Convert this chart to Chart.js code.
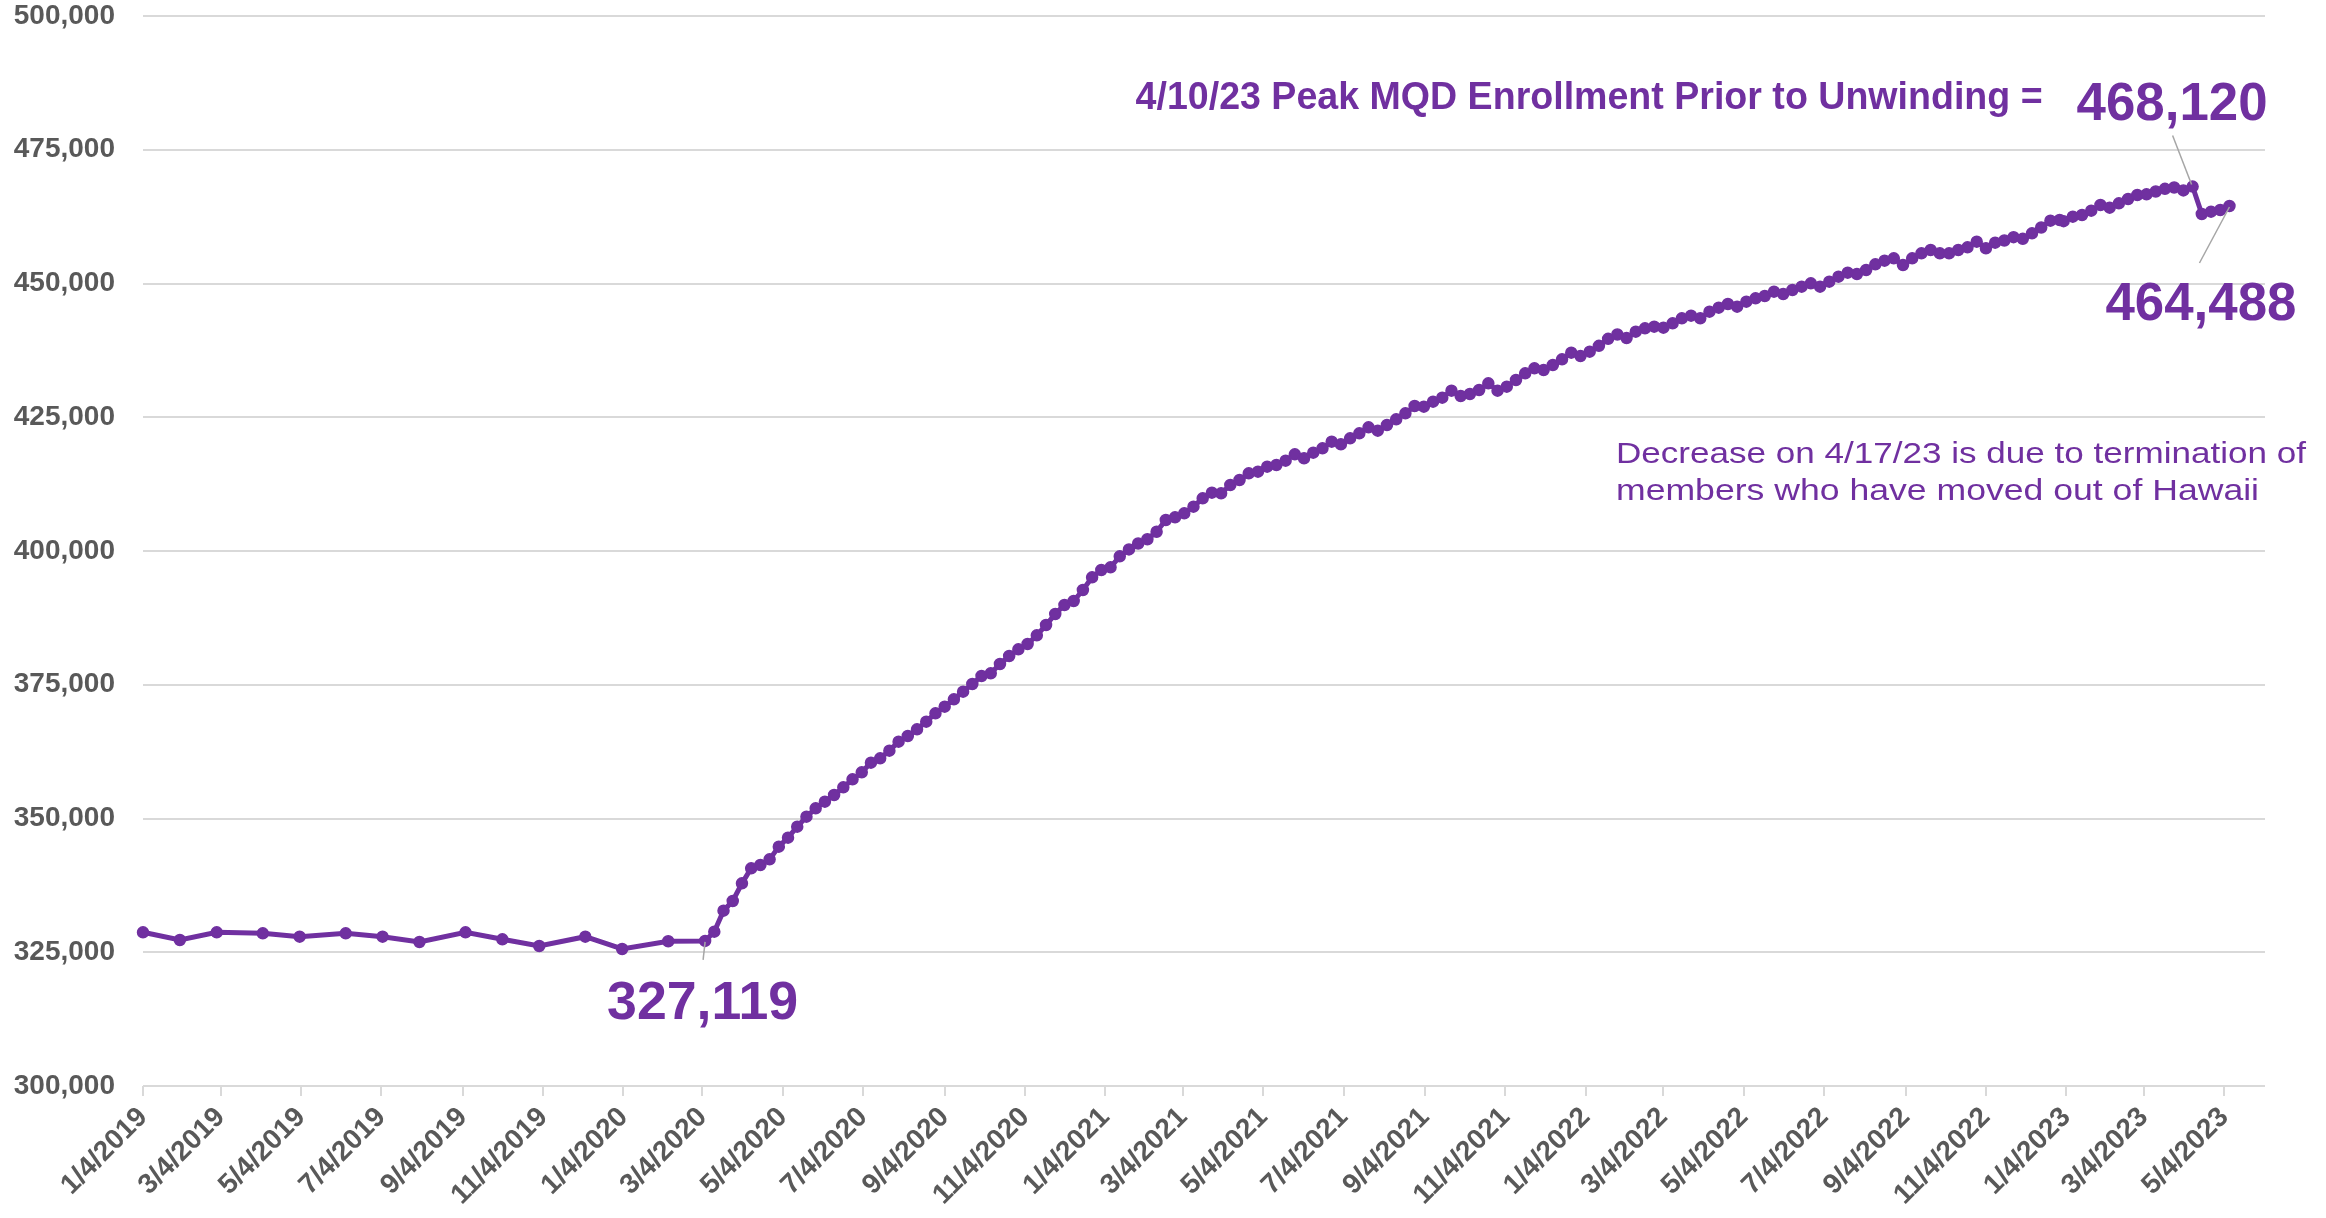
<!DOCTYPE html>
<html>
<head>
<meta charset="utf-8">
<script src="https://cdn.jsdelivr.net/npm/chart.js@4.4.1/dist/chart.umd.min.js"></script>
<style>
  html, body { margin: 0; padding: 0; background: #fff; }
  #wrap { width: 2326px; height: 1218px; }
</style>
</head>
<body>
<div id="wrap"><canvas id="enrollment-chart" width="2326" height="1218"></canvas></div>
<script>
// report dates: monthly through 2/2020, then weekly
const reportDates = [
  '1/4/2019','2/1/2019','3/1/2019','4/5/2019','5/3/2019','6/7/2019','7/5/2019','8/2/2019','9/6/2019','10/4/2019','11/1/2019','12/6/2019','1/3/2020','2/7/2020',
  '3/6/2020','3/13/2020','3/20/2020','3/27/2020','4/3/2020','4/10/2020','4/17/2020','4/24/2020','5/1/2020','5/8/2020','5/15/2020','5/22/2020','5/29/2020',
  '6/5/2020','6/12/2020','6/19/2020','6/26/2020','7/3/2020','7/10/2020','7/17/2020','7/24/2020','7/31/2020','8/7/2020','8/14/2020','8/21/2020','8/28/2020',
  '9/4/2020','9/11/2020','9/18/2020','9/25/2020','10/2/2020','10/9/2020','10/16/2020','10/23/2020','10/30/2020','11/6/2020','11/13/2020','11/20/2020','11/27/2020',
  '12/4/2020','12/11/2020','12/18/2020','12/25/2020',
  '1/1/2021','1/8/2021','1/15/2021','1/22/2021','1/29/2021','2/5/2021','2/12/2021','2/19/2021','2/26/2021','3/5/2021','3/12/2021','3/19/2021','3/26/2021',
  '4/2/2021','4/9/2021','4/16/2021','4/23/2021','4/30/2021','5/7/2021','5/14/2021','5/21/2021','5/28/2021','6/4/2021','6/11/2021','6/18/2021','6/25/2021',
  '7/2/2021','7/9/2021','7/16/2021','7/23/2021','7/30/2021','8/6/2021','8/13/2021','8/20/2021','8/27/2021','9/3/2021','9/10/2021','9/17/2021','9/24/2021',
  '10/1/2021','10/8/2021','10/15/2021','10/22/2021','10/29/2021','11/5/2021','11/12/2021','11/19/2021','11/26/2021','12/3/2021','12/10/2021','12/17/2021','12/24/2021','12/31/2021',
  '1/7/2022','1/14/2022','1/21/2022','1/28/2022','2/4/2022','2/11/2022','2/18/2022','2/25/2022','3/4/2022','3/11/2022','3/18/2022','3/25/2022',
  '4/1/2022','4/8/2022','4/15/2022','4/22/2022','4/29/2022','5/6/2022','5/13/2022','5/20/2022','5/27/2022','6/3/2022','6/10/2022','6/17/2022','6/24/2022',
  '7/1/2022','7/8/2022','7/15/2022','7/22/2022','7/29/2022','8/5/2022','8/12/2022','8/19/2022','8/26/2022','9/2/2022','9/9/2022','9/16/2022','9/23/2022','9/30/2022',
  '10/7/2022','10/14/2022','10/21/2022','10/28/2022','11/4/2022','11/11/2022','11/18/2022','11/25/2022','12/2/2022','12/9/2022','12/16/2022','12/23/2022','12/30/2022',
  '1/2/2023','1/9/2023','1/16/2023','1/23/2023','1/30/2023','2/6/2023','2/13/2023','2/20/2023','2/27/2023','3/6/2023','3/13/2023','3/20/2023','3/27/2023',
  '4/3/2023','4/10/2023','4/17/2023','4/24/2023','5/1/2023','5/8/2023'
];

const enrollment = [
  328730, 327290, 328730, 328540, 327910, 328540, 327910, 326920, 328730, 327420, 326170, 327910, 325610, 327050,
  // 2020 weekly
  327119, 328850, 332770, 334580, 337880, 340690, 341310, 342360, 344740, 346420, 348470, 350340, 351900,
  353150, 354390, 355830, 357320, 358630, 360440, 361250, 362680, 364360, 365420, 366670, 368100, 369660,
  370900, 372280, 373710, 375140, 376640, 377130, 378880, 380370, 381620, 382620, 384240, 386170, 388220,
  389910, 390650, 392710, 395080,
  // 2021
  396450, 396950, 399000, 400300, 401400, 402200, 403600, 405790, 406290, 407040, 408290, 409840, 410900,
  410780, 412340, 413270, 414520, 414830, 415760, 416080, 416890, 418070, 417320, 418380, 419190, 420440,
  419940, 421060, 421990, 423120, 422490, 423550, 424610, 425730, 427100, 426980, 427910, 428660, 429970,
  428970, 429350, 430090, 431340, 429970, 430720, 431960, 433210, 434140, 433830, 434770, 435830, 437070, 436450,
  // 2022
  437260, 438350, 439660, 440470, 439810, 441000, 441620, 441930, 441750, 442560, 443490, 443990,
  443490, 444740, 445480, 446170, 445670, 446610, 447230, 447660, 448470, 448040, 448790, 449410, 450030,
  449410, 450340, 451280, 452030, 451780, 452520, 453580, 454270, 454700, 453460, 454700, 455640, 456260, 455640,
  455640, 456260, 456760, 457820, 456570, 457630, 458040, 458660, 458350, 459380, 460470, 461740, 461870,
  // 2023
  461650, 462490, 462800, 463610, 464670, 464170, 464980, 465790, 466540, 466670, 467200, 467700, 467950,
  467400, 468120, 462990, 463430, 463740, 464488
];

const tickDates = [
  '1/4/2019','3/4/2019','5/4/2019','7/4/2019','9/4/2019','11/4/2019',
  '1/4/2020','3/4/2020','5/4/2020','7/4/2020','9/4/2020','11/4/2020',
  '1/4/2021','3/4/2021','5/4/2021','7/4/2021','9/4/2021','11/4/2021',
  '1/4/2022','3/4/2022','5/4/2022','7/4/2022','9/4/2022','11/4/2022',
  '1/4/2023','3/4/2023','5/4/2023'
];
const axisEnd = '6/4/2023';
const yMin = 300000, yMax = 500000, yStep = 25000;

const lowDate = '3/6/2020';
const peakDate = '4/10/2023';
const lastDate = '5/8/2023';
const peakTitle = '4/10/23 Peak MQD Enrollment Prior to Unwinding =';
const noteLines = ['Decrease on 4/17/23 is due to termination of', 'members who have moved out of Hawaii'];

const purple = '#7030A0';
const labelGrey = '#595959';
const gridGrey = '#d9d9d9';
const leaderGrey = '#a6a6a6';
const family = "'Liberation Sans', Arial, sans-serif";

function dayNum(s){
    const [m, d, y] = s.split('/').map(Number);
    return Date.UTC(y, m - 1, d) / 86400000;
}

function fmt(n){
    return n.toLocaleString('en-US');
}

// draw text starting at left, squeezed/stretched to the given width
function fitText(ctx, text, left, baseline, width, font){
    ctx.font = font;
    const w = ctx.measureText(text).width;
    ctx.save();
    ctx.translate(left, baseline);
    ctx.scale(width / w, 1);
    ctx.textAlign = 'left';
    ctx.textBaseline = 'alphabetic';
    ctx.fillText(text, 0, 0);
    ctx.restore();
}

const annotations = {
    id: 'annotations',
    afterDatasetsDraw(chart){
        const ctx = chart.ctx;
        const xs = chart.scales.x, ys = chart.scales.y;
        const at = date => {
            const v = enrollment[reportDates.indexOf(date)];
            return { px: xs.getPixelForValue(dayNum(date)), py: ys.getPixelForValue(v), v: v };
        };
        const low = at(lowDate), peak = at(peakDate), last = at(lastDate);

        ctx.save();
        ctx.strokeStyle = leaderGrey;
        ctx.lineWidth = 1.5;
        const line = (x1, y1, x2, y2) => { ctx.beginPath(); ctx.moveTo(x1, y1); ctx.lineTo(x2, y2); ctx.stroke(); };
        line(low.px, low.py + 1, low.px - 2, low.py + 19);
        line(peak.px - 1, peak.py - 2, peak.px - 20, peak.py - 51);
        line(last.px, last.py + 1, last.px - 30, last.py + 57);

        ctx.fillStyle = purple;
        const big = 'bold 53px ' + family;
        fitText(ctx, fmt(low.v), low.px - 98, low.py + 78, 191, big);
        fitText(ctx, fmt(peak.v), peak.px - 116, peak.py - 67, 191, big);
        fitText(ctx, fmt(last.v), last.px - 124, last.py + 114, 191, big);
        fitText(ctx, peakTitle, peak.px - 1057, peak.py - 78, 907, 'bold 38px ' + family);

        const area = chart.chartArea;
        fitText(ctx, noteLines[0], area.right - 649, area.top + 447, 690, '30px ' + family);
        fitText(ctx, noteLines[1], area.right - 649, area.top + 484, 643, '30px ' + family);
        ctx.restore();
    }
};

new Chart(document.getElementById('enrollment-chart'), {
    type: 'line',
    data: {
        datasets: [{
            label: 'MQD Enrollment',
            data: reportDates.map((d, i) => ({ x: dayNum(d), y: enrollment[i] })),
            borderColor: purple,
            backgroundColor: purple,
            borderWidth: 5,
            pointRadius: 5.5,
            pointBorderWidth: 1.5,
            pointBackgroundColor: purple,
            pointBorderColor: purple,
            tension: 0,
            fill: false,
            clip: false
        }]
    },
    options: {
        responsive: false,
        animation: false,
        layout: { padding: { top: 16, right: 61, bottom: 0, left: 0 } },
        plugins: {
            legend: { display: false },
            tooltip: { enabled: false }
        },
        scales: {
            x: {
                type: 'linear',
                min: dayNum(tickDates[0]),
                max: dayNum(axisEnd),
                afterBuildTicks: s => { s.ticks = tickDates.map(d => ({ value: dayNum(d) })); },
                afterFit: s => { s.height = 132; },
                border: { display: false },
                grid: { drawOnChartArea: false, drawTicks: true, tickLength: 10, color: gridGrey, lineWidth: 2 },
                ticks: {
                    autoSkip: false,
                    minRotation: 45,
                    maxRotation: 45,
                    padding: 5,
                    color: labelGrey,
                    font: { family: family, size: 28, weight: 'bold' },
                    callback: (v, i) => tickDates[i]
                }
            },
            y: {
                min: yMin,
                max: yMax,
                afterFit: s => { s.width = 143; },
                border: { display: false },
                // invisible tick marks keep the labels clear of the plot without padding the top
                grid: { color: gridGrey, lineWidth: 2, drawTicks: true, tickLength: 26, tickColor: 'rgba(0,0,0,0)' },
                ticks: {
                    stepSize: yStep,
                    padding: 2,
                    color: labelGrey,
                    font: { family: family, size: 28, weight: 'bold', lineHeight: 1 },
                    callback: v => fmt(v)
                }
            }
        }
    },
    plugins: [annotations]
});
</script>
</body>
</html>
